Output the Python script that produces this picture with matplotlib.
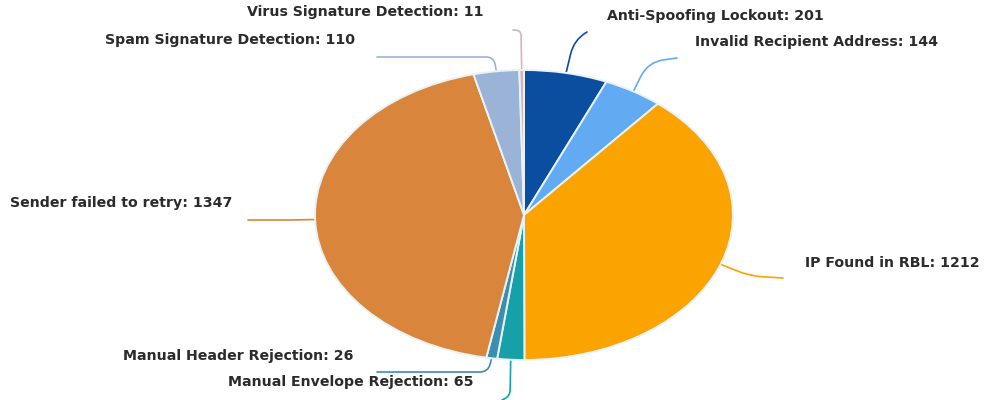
import numpy as np
import matplotlib.pyplot as plt
from matplotlib.path import Path
from matplotlib.patches import PathPatch

# --- Data
labels = ['Anti-Spoofing Lockout', 'Invalid Recipient Address', 'IP Found in RBL',
          'Manual Envelope Rejection', 'Manual Header Rejection', 'Sender failed to retry',
          'Spam Signature Detection', 'Virus Signature Detection']
values = [201, 144, 1212, 65, 26, 1347, 110, 11]
colors = ['#0b4d9e', '#62aaf2', '#fba300', '#17a0a8', '#3b8fae', '#d9853b', '#9cb3d8', '#d6b3b9']

# --- Label layout (pixel coords): text left x, text center y, leader corner, leader end
text_pos = [(607, 16), (695, 42), (805, 263), (228, 382), (123, 356), (10, 203), (105, 40), (247, 12)]
leader_corner = [(574, 40), (648, 62), (750, 276), (510, 396), (488, 372), (290, 220), (494, 57), (521, 30)]
leader_end = [(587, 32), (677, 58), (783, 278), (502, 400), (377, 372), (248, 220), (377, 57), (513, 30)]
leader_radius = [14, 16, 12, 6, 8, 1, 8, 6]

W, H = 987, 400
cx, cy, rx, ry = 524, 215, 209, 145

fig = plt.figure(figsize=(W / 100, H / 100), dpi=100)
ax = fig.add_axes([(cx - rx) / W, (H - cy - ry) / H, 2 * rx / W, 2 * ry / H])
wedges, _ = ax.pie(values, colors=colors, startangle=90, counterclock=False, radius=1,
                   wedgeprops=dict(edgecolor='#e8f3f8', linewidth=1.4))
ax.set_aspect('auto')
ax.set_xlim(-1, 1)
ax.set_ylim(-1, 1)
ax.axis('off')

# overlay in pixel coordinates for leader lines and labels
ov = fig.add_axes([0, 0, 1, 1], zorder=-1)
ov.set_xlim(0, W)
ov.set_ylim(H, 0)
ov.axis('off')


def rounded_leader(s, c, e, r):
  s, c, e = np.array(s, float), np.array(c, float), np.array(e, float)
  d1 = (s - c) / max(np.linalg.norm(s - c), 1e-9)
  d2 = (e - c) / max(np.linalg.norm(e - c), 1e-9)
  r1 = min(r, np.linalg.norm(s - c))
  r2 = min(r, np.linalg.norm(e - c))
  p1 = c + d1 * r1
  p2 = c + d2 * r2
  verts = [s, p1, c, p2, e]
  codes = [Path.MOVETO, Path.LINETO, Path.CURVE3, Path.CURVE3, Path.LINETO]
  return Path(verts, codes)


for i, w in enumerate(wedges):
  mid = np.deg2rad((w.theta1 + w.theta2) / 2)
  start = (cx + rx * np.cos(mid), cy - ry * np.sin(mid))
  path = rounded_leader(start, leader_corner[i], leader_end[i], leader_radius[i])
  ov.add_patch(PathPatch(path, facecolor='none', edgecolor=colors[i], linewidth=1.2,
                         capstyle='round', clip_on=False))
  tx, ty = text_pos[i]
  ov.text(tx, ty, f'{labels[i]}: {values[i]}', ha='left', va='center',
          fontsize=10.2, fontweight='bold', color='#2b2b2b', family='DejaVu Sans')

plt.savefig('out.png', dpi=100)
